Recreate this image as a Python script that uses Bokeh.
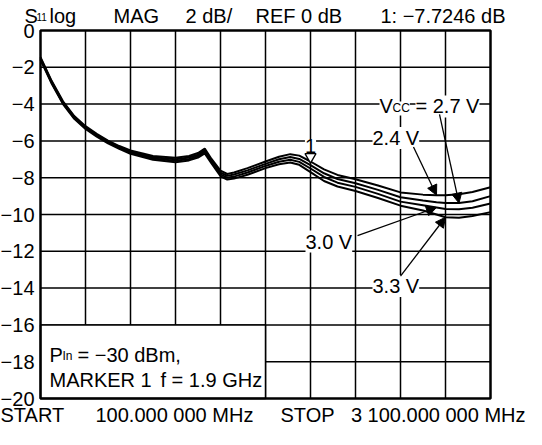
from bokeh.plotting import figure
from bokeh.models import Label, Arrow, NormalHead
from bokeh.core.properties import value
from bokeh.embed import file_html
from bokeh.resources import INLINE

# ---------------- data ----------------
START_MHZ = 100
STOP_MHZ = 3100
MARKER_F_MHZ = 1900

FREQ_MHZ = [100, 175, 250, 325, 400, 475, 550, 625, 700, 850, 1000, 1090, 1150, 1195,
            1240, 1300, 1345, 1390, 1480, 1600, 1690, 1765, 1825, 1900, 1990, 2080,
            2200, 2350, 2500, 2650, 2740, 2800, 2890, 2980, 3100]

S11_2V4 = [-1.45, -2.75, -3.85, -4.65, -5.20, -5.62, -5.98, -6.28, -6.52, -6.82, -6.92,
           -6.82, -6.66, -6.42, -6.98, -7.62, -7.80, -7.72, -7.48, -7.12, -6.86, -6.72,
           -6.80, -7.12, -7.55, -7.85, -8.08, -8.42, -8.80, -8.92, -8.95, -8.95, -8.90,
           -8.78, -8.52]
S11_2V7 = [-1.50, -2.80, -3.90, -4.70, -5.25, -5.67, -6.03, -6.33, -6.58, -6.89, -7.00,
           -6.90, -6.75, -6.52, -7.07, -7.72, -7.90, -7.83, -7.60, -7.25, -7.00, -6.88,
           -6.98, -7.32, -7.76, -8.07, -8.30, -8.66, -9.06, -9.24, -9.33, -9.38, -9.38,
           -9.28, -9.00]
S11_3V0 = [-1.55, -2.85, -3.95, -4.75, -5.30, -5.72, -6.08, -6.38, -6.64, -6.96, -7.08,
           -6.98, -6.83, -6.60, -7.15, -7.82, -8.00, -7.94, -7.72, -7.36, -7.13, -7.02,
           -7.14, -7.50, -7.96, -8.27, -8.50, -8.88, -9.30, -9.50, -9.62, -9.70, -9.72,
           -9.63, -9.40]
S11_3V3 = [-1.60, -2.90, -4.00, -4.80, -5.35, -5.77, -6.13, -6.43, -6.70, -7.03, -7.16,
           -7.06, -6.91, -6.68, -7.23, -7.92, -8.10, -8.05, -7.84, -7.48, -7.27, -7.17,
           -7.30, -7.70, -8.18, -8.48, -8.72, -9.10, -9.52, -9.78, -10.00, -10.15, -10.18,
           -10.08, -9.87]

Y_TICKS = [0, -2, -4, -6, -8, -10, -12, -14, -16, -18, -20]
Y_TICK_LABELS = ["0", "\u22122", "\u22124", "\u22126", "\u22128", "\u221210",
                 "\u221212", "\u221214", "\u221216", "\u221218", "\u221220"]
X_GRID_MHZ = [400, 700, 1000, 1300, 1600, 1900, 2200, 2500, 2800]

FONT = "Liberation Sans"
FS = "20px"
SUB = "12px"

# ---------------- layout ----------------
Y_TOP, Y_BOT = 0, -20
FIG_W, FIG_H, MARGIN = 526, 424, 8
FRAME_L, FRAME_W = 48, 450          # page pixels
LAY_T, LAY_H = 38, 368              # page pixels of the frame in this layout
REF_T, REF_H = 39, 373              # frame as measured on the reference
BASE_FIX = -4


def px_x(px):
    return START_MHZ + (px - FRAME_L) / FRAME_W * (STOP_MHZ - START_MHZ)


def page_y(py):      # absolute page pixel -> data
    return Y_TOP - (py - LAY_T) / LAY_H * (Y_TOP - Y_BOT)


def ref_y(py):       # position measured inside the reference frame -> data
    return Y_TOP - (py - REF_T) / REF_H * (Y_TOP - Y_BOT)


p = figure(width=FIG_W, height=FIG_H,
           x_range=(px_x(MARGIN), px_x(MARGIN + FIG_W)),
           y_range=(page_y(MARGIN + FIG_H), page_y(MARGIN)),
           output_backend="svg", toolbar_location=None, min_border=0)
p.axis.visible = False
p.grid.visible = False
p.outline_line_color = None
p.background_fill_color = "white"
p.border_fill_color = "white"

# grid
n = len(X_GRID_MHZ)
p.segment(x0=X_GRID_MHZ, y0=[Y_BOT] * n, x1=X_GRID_MHZ, y1=[Y_TOP] * n,
          line_color="black", line_width=1.5)
inner = Y_TICKS[1:-1]
p.segment(x0=[START_MHZ] * len(inner), y0=inner, x1=[STOP_MHZ] * len(inner), y1=inner,
          line_color="black", line_width=1.5)

# y tick labels
p.text(x=[START_MHZ] * len(Y_TICKS), y=Y_TICKS, text=Y_TICK_LABELS, x_offset=-6,
       text_align="right", text_baseline="middle", text_font=value(FONT),
       text_font_size=value(FS), text_color="black")

# curves
for series in (S11_2V4, S11_2V7, S11_3V0, S11_3V3):
    p.line(FREQ_MHZ, series, line_color="black", line_width=2)

# info box (covers grid over the lower-left 5 x 2 divisions)
p.quad(left=[START_MHZ], right=[X_GRID_MHZ[4]], bottom=[Y_BOT], top=[Y_TICKS[8]],
       fill_color="white", line_color="black", line_width=1.5)

# frame
p.quad(left=[START_MHZ], right=[STOP_MHZ], bottom=[Y_BOT], top=[Y_TOP],
       fill_color=None, line_color="black", line_width=2.5)


def txt(s, x_px, y_data, size=FS, align="left", bg=False):
    kw = dict(x=px_x(x_px), y=y_data, y_offset=-BASE_FIX, text=s, text_font=FONT,
              text_font_size=size, text_align=align, text_baseline="alphabetic",
              text_color="black")
    if bg:
        kw.update(background_fill_color="white", background_fill_alpha=1.0)
    p.add_layout(Label(**kw))


# header (page positions)
txt("S", 32, page_y(27))
txt("11", 44, page_y(28), size="10px")
txt("log", 57, page_y(27))
txt("MAG", 121, page_y(27))
txt("2 dB/", 193, page_y(27))
txt("REF 0 dB", 263, page_y(27))
txt("1: \u22127.7246 dB", 513, page_y(27), align="right")

# footer (page positions)
txt("START", 8, page_y(426))
txt("100.000 000 MHz", 103, page_y(426))
txt("STOP", 288, page_y(426))
txt("3 100.000 000 MHz", 533, page_y(426), align="right")

# box text
txt("P", 57, ref_y(372))
txt("In", 70, ref_y(373), size=SUB)
txt("= \u221230 dBm,", 85, ref_y(372))
txt("MARKER 1", 57, ref_y(397))
txt("f = 1.9 GHz", 168, ref_y(397))

# curve labels
p.add_layout(Label(x=MARKER_F_MHZ, y=ref_y(160), y_offset=-BASE_FIX, text="1", text_font=FONT,
                   text_font_size=FS, text_align="center", text_baseline="alphabetic",
                   text_color="black",
                   background_fill_color="white", background_fill_alpha=1.0))
txt("2.4 V", 380, ref_y(152), bg=True)
txt("V", 387, ref_y(120), bg=True)
txt("CC", 400, ref_y(122), size=SUB, bg=True)
txt("= 2.7 V", 423, ref_y(120), bg=True)
txt("3.0 V", 313, ref_y(257), bg=True)
txt("3.3 V", 380, ref_y(302), bg=True)

# marker triangle
p.scatter([MARKER_F_MHZ], [ref_y(167)], marker="inverted_triangle", size=11,
          fill_color="white", line_color="black", line_width=1.3)


def arrow(x0_px, y0_px, freq, val):
    p.add_layout(Arrow(end=NormalHead(size=10, fill_color="black", line_color="black", line_width=1),
                       x_start=px_x(x0_px), y_start=ref_y(y0_px), x_end=freq, y_end=val,
                       line_color="black", line_width=1.3))


i24 = FREQ_MHZ.index(2740)
i27 = FREQ_MHZ.index(2890)
i30 = FREQ_MHZ.index(2740)
i33 = FREQ_MHZ.index(2800)
arrow(421, 157, FREQ_MHZ[i24], S11_2V4[i24])
arrow(447, 124, FREQ_MHZ[i27], S11_2V7[i27])
arrow(365, 247, FREQ_MHZ[i30], S11_3V0[i30])
arrow(408, 288, FREQ_MHZ[i33], S11_3V3[i33])

open("out.html", "w").write(file_html(p, INLINE))
